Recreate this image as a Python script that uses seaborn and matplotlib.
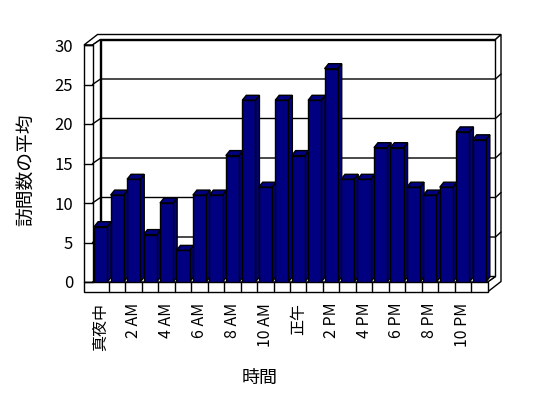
import matplotlib
matplotlib.use("Agg")
import matplotlib.pyplot as plt
import matplotlib.transforms as mtransforms
from matplotlib.patches import Polygon, Rectangle
from matplotlib.lines import Line2D
import seaborn as sns
import pandas as pd

# ---- data ----
hours = ["真夜中", "1 AM", "2 AM", "3 AM", "4 AM", "5 AM", "6 AM", "7 AM",
         "8 AM", "9 AM", "10 AM", "11 AM", "正午", "1 PM", "2 PM", "3 PM",
         "4 PM", "5 PM", "6 PM", "7 PM", "8 PM", "9 PM", "10 PM", "11 PM"]
visits = [7, 11, 13, 6, 10, 4, 11, 11, 16, 23, 12, 23,
          16, 23, 27, 13, 13, 17, 17, 12, 11, 12, 19, 18]
yticks = [0, 5, 10, 15, 20, 25, 30]
x_label = "時間"
y_label = "訪問数の平均"

sns.set_theme(style="white")
plt.rcParams["font.family"] = ["Noto Sans CJK JP", "DejaVu Sans"]

W, H = 548, 398
fig = plt.figure(figsize=(W / 100, H / 100), dpi=100)
fig.patch.set_facecolor("white")
ax = fig.add_axes([92.5 / W, (H - 282) / H, 395 / W, 237 / H])
ax.patch.set_visible(False)

df = pd.DataFrame({"hour": hours, "visits": visits})
NAVY = "#000080"
sns.barplot(data=df, x="hour", y="visits", order=hours, color=NAVY,
            saturation=1, edgecolor="black", linewidth=1.0, width=0.8,
            ax=ax, zorder=5)
ax.set_xlim(-0.5, len(hours) - 0.5)
ax.set_ylim(0, 30)
for s in ax.spines.values():
    s.set_visible(False)

ax.set_yticks(yticks)
ax.set_yticklabels([str(v) for v in yticks])
ax.set_xticks(range(0, len(hours), 2))
ax.set_xticklabels(hours[::2], rotation=90)
ax.tick_params(axis="y", length=0, pad=14, labelsize=12, colors="black")
ax.tick_params(axis="x", length=0, pad=15, labelsize=11.5, colors="black")
ax.set_xlabel(x_label, fontsize=13, va="center", color="black")
ax.set_ylabel(y_label, fontsize=13.5, va="center", color="black")
ax.xaxis.set_label_coords(0.424, -0.405)
ax.yaxis.set_label_coords(-0.166, 0.4726)

# ---- pseudo-3D frame (display coords derived from the axes scales) ----
ID = mtransforms.IdentityTransform()
td = ax.transData


def D(x, y):
    return td.transform((x, y))


X0 = D(-0.5, 0)[0]
X1 = D(len(hours) - 0.5, 0)[0]
Y0 = D(0, 0)[1]
Y30 = D(0, 30)[1]
DI = (8.0, 5.5)     # plot area -> back wall inner face
DO = (13.5, 10.5)   # front -> back wall outer face
T = 8.5             # left wall front thickness
F = 10.0            # floor thickness
BD = (4.0, 5.0)     # bar depth

kw = dict(transform=ID, clip_on=False, edgecolor="black", facecolor="white",
          linewidth=1.0)


def poly(pts, z, **extra):
    k = dict(kw)
    k.update(extra)
    ax.add_patch(Polygon(pts, closed=True, zorder=z, **k))


def line(x, y, z=2):
    ax.add_line(Line2D(x, y, transform=ID, clip_on=False, color="black",
                       linewidth=1.0, zorder=z))


# back wall inner face
poly([(X0 + DI[0], Y0 + DI[1]), (X1 + DI[0], Y0 + DI[1]),
      (X1 + DI[0], Y30 + DI[1]), (X0 + DI[0], Y30 + DI[1])], 1)
# top of walls
poly([(X0 - T, Y30), (X0 - T + DO[0], Y30 + DO[1]), (X1 + DO[0], Y30 + DO[1]),
      (X1 + DI[0], Y30 + DI[1]), (X0 + DI[0], Y30 + DI[1]), (X0, Y30)], 1)
# right end of back wall / floor
poly([(X1 + DI[0], Y30 + DI[1]), (X1 + DO[0], Y30 + DO[1]),
      (X1 + DO[0], Y0 - F + DO[1]), (X1, Y0 - F), (X1, Y0),
      (X1 + DI[0], Y0 + DI[1])], 1)
# left wall inner face
poly([(X0, Y0), (X0, Y30), (X0 + DI[0], Y30 + DI[1]),
      (X0 + DI[0], Y0 + DI[1])], 1)
# left wall front face
poly([(X0 - T, Y0), (X0, Y0), (X0, Y30), (X0 - T, Y30)], 1)
# floor top and front face
poly([(X0, Y0), (X1, Y0), (X1 + DI[0], Y0 + DI[1]), (X0 + DI[0], Y0 + DI[1])], 1)
poly([(X0 - T, Y0 - F), (X1, Y0 - F), (X1, Y0), (X0 - T, Y0)], 1)

# gridlines and wall ticks
for v in yticks:
    yf = D(0, v)[1]
    line([X0 - T, X0], [yf, yf])
    if 0 < v < 30:
        line([X0, X0 + DI[0], X1 + DI[0], X1 + DO[0]],
             [yf, yf + DI[1], yf + DI[1], yf + DO[1]])
# floor dividers
for k in range(1, len(hours)):
    xk = D(k - 0.5, 0)[0]
    line([xk, xk], [Y0 - F, Y0])

# bar side and top faces from the seaborn bars
for p in ax.patches:
    if not isinstance(p, Rectangle) or p.get_transform() is ID:
        continue
    if p.get_height() <= 0:
        continue
    (L, B) = D(p.get_x(), p.get_y())
    (R, Tp) = D(p.get_x() + p.get_width(), p.get_y() + p.get_height())
    poly([(R, B), (R, Tp), (R + BD[0], Tp + BD[1]), (R + BD[0], B + BD[1])],
         4, facecolor=NAVY)
    poly([(L, Tp), (R, Tp), (R + BD[0], Tp + BD[1]), (L + BD[0], Tp + BD[1])],
         4, facecolor=NAVY)

fig.savefig("out.png", dpi=100, facecolor="white")
